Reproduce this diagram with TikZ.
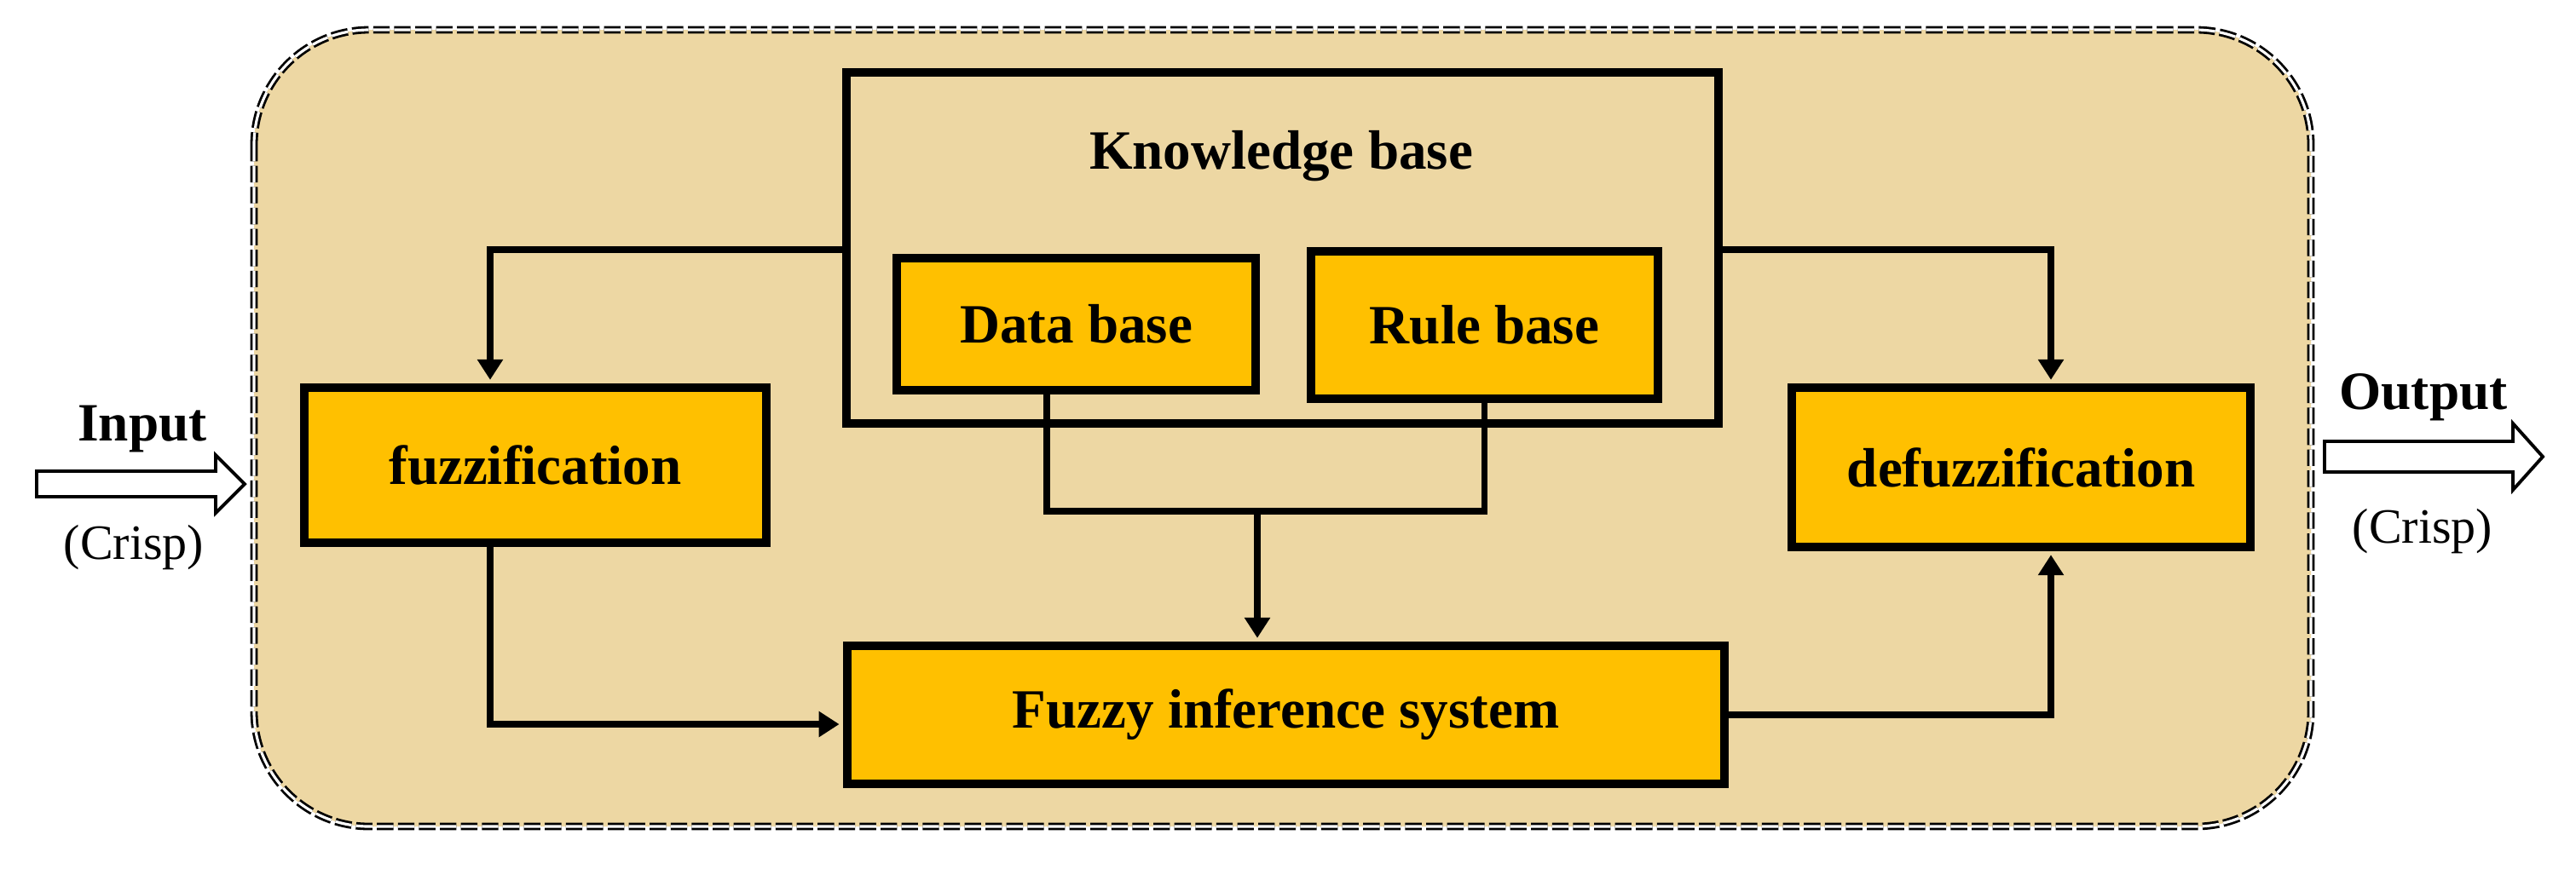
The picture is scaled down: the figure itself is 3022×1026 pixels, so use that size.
\documentclass[tikz,border=0pt]{standalone}
\usepackage{fontspec}
\setmainfont{Liberation Serif}
\usetikzlibrary{arrows.meta,calc}
\definecolor{papyrus}{RGB}{237,215,163}
\definecolor{gold}{RGB}{255,192,0}
\begin{document}
\begin{tikzpicture}[x=0.01cm,y=-0.01cm,
  ybox/.style={draw=black, line width=2.8pt, fill=gold, inner sep=0pt,
    font=\bfseries\fontsize{18.5}{22}\selectfont},
  kbbox/.style={draw=black, line width=2.8pt, inner sep=0pt},
  conn/.style={line width=2.2pt, line join=miter, shorten >=1.2pt,
    -{Triangle[length=0.24cm,width=0.29cm]}},
  plain/.style={line width=2.2pt, line join=miter},
  hollow/.style={draw=black, line width=1.1pt, fill=white, line join=miter},
  lbl/.style={font=\bfseries\fontsize{18}{22}\selectfont, anchor=base, inner sep=0pt},
  sub/.style={font=\fontsize{16.5}{20}\selectfont, anchor=base, inner sep=0pt}]
\useasboundingbox (0,0) rectangle (3022,1026);
\fill[white] (0,0) rectangle (3022,1026);
% outer frame
\draw[draw=black, double=white, line width=0.8pt, double distance=0.9pt,
  dash pattern=on 5.5pt off 1.5pt, fill=papyrus, rounded corners=1.35cm]
  (298,35) rectangle (2711,970);
% nodes
\node[kbbox, minimum width=10.23cm, minimum height=4.12cm] (kb) at (1504.5,291) {};
\node[lbl, font=\bfseries\fontsize{18.5}{22}\selectfont] (kbl) at (1503,198) {Knowledge base};
\node[ybox, minimum width=4.21cm, minimum height=1.55cm] (db) at (1262.5,380.5) {Data base};
\node[ybox, minimum width=4.07cm, minimum height=1.73cm] (rb) at (1741.5,381.5) {Rule base};
\node[ybox, minimum width=5.42cm, minimum height=1.82cm] (fz) at (628,546) {fuzzification};
\node[ybox, minimum width=5.38cm, minimum height=1.87cm] (dfz) at (2371,548.5) {defuzzification};
\node[ybox, minimum width=10.29cm, minimum height=1.62cm] (fis) at (1508.5,839) {Fuzzy inference system};
% lanes
\coordinate (xL) at (575,0);
\coordinate (xR) at (2406,0);
\coordinate (xD) at (1228,0);
\coordinate (xM) at (1475,0);
\coordinate (yTop) at (0,293);
\coordinate (yJ) at (0,600);
\coordinate (yBL) at (0,850);
\coordinate (yBR) at (0,839);
% connectors
\draw[conn] (kb.west |- yTop) -| (fz.north -| xL);
\draw[conn] (kb.east |- yTop) -| (dfz.north -| xR);
\draw[plain] (db.south -| xD) -- (xD |- yJ) -- (rb.south |- yJ) -- (rb.south);
\draw[conn] (xM |- yJ) -- (fis.north -| xM);
\draw[conn] (fz.south -| xL) |- (fis.west |- yBL);
\draw[conn] (fis.east |- yBR) -| (dfz.south -| xR);
% input / output arrows
\coordinate (inA) at (43,568);
\coordinate (inB) at (287,568);
\draw[hollow] (inA) ++(0,-15) -- ++(210,0) -- ++(0,-19) -- (inB) -- ++(-34,34) -- ++(0,-19) -- ++(-210,0) -- cycle;
\coordinate (outA) at (2727,536);
\coordinate (outB) at (2983,536);
\draw[hollow] (outA) ++(0,-18) -- ++(221,0) -- ++(0,-21) -- (outB) -- ++(-35,39) -- ++(0,-21) -- ++(-221,0) -- cycle;
% labels
\node[lbl] (inl) at (167,517) {Input};
\node[sub] (inc) at (157,656) {(Crisp)};
\node[lbl] (outl) at (2843,480) {Output};
\node[sub] (outc) at (2842,637) {(Crisp)};
\end{tikzpicture}
\end{document}
